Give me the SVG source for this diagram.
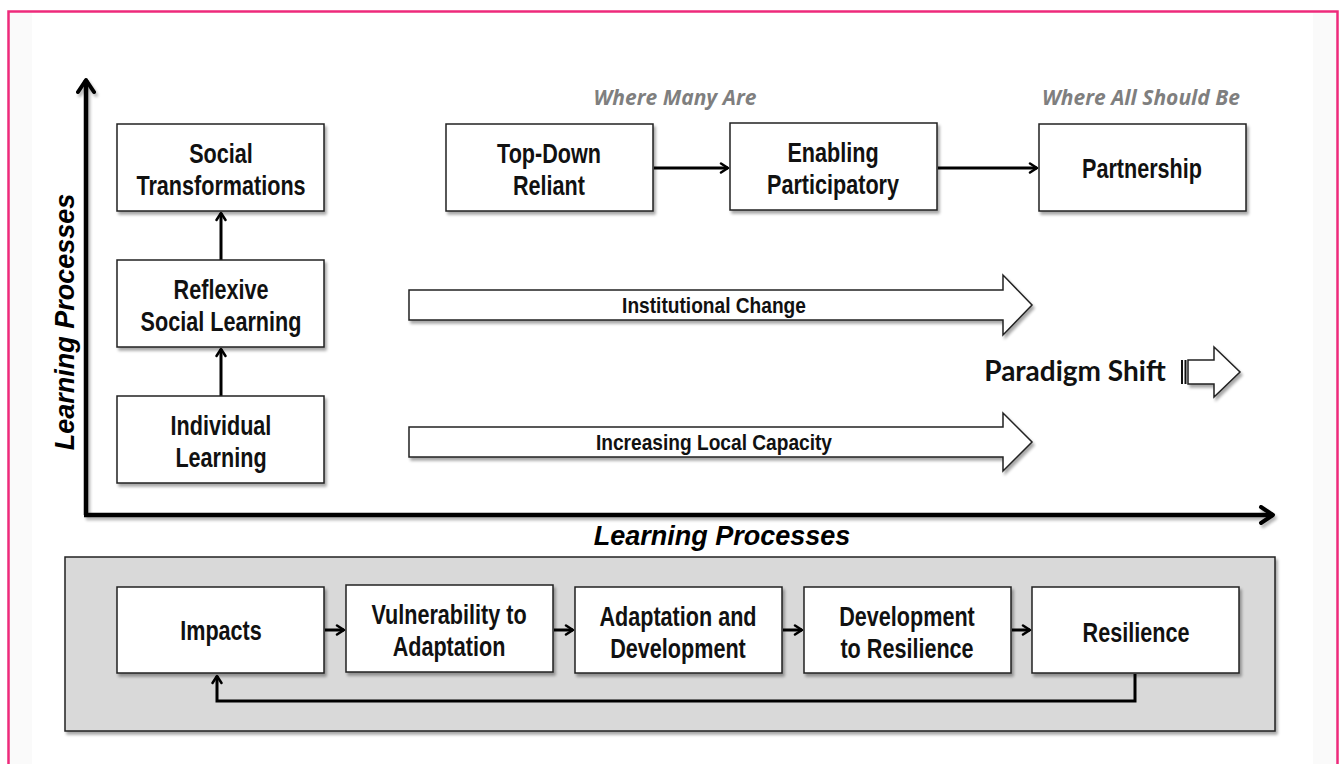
<svg xmlns="http://www.w3.org/2000/svg" width="1341" height="764" viewBox="0 0 1341 764">
<defs>
<filter id="sh" x="-10%" y="-10%" width="130%" height="130%">
<feGaussianBlur in="SourceAlpha" stdDeviation="1.5"/>
<feOffset dx="2" dy="3" result="o"/>
<feComponentTransfer><feFuncA type="linear" slope="0.35"/></feComponentTransfer>
<feMerge><feMergeNode/><feMergeNode in="SourceGraphic"/></feMerge>
</filter>
<filter id="sh2" filterUnits="userSpaceOnUse" x="0" y="0" width="1341" height="764">
<feGaussianBlur in="SourceAlpha" stdDeviation="1.5"/>
<feOffset dx="2" dy="3" result="o"/>
<feComponentTransfer><feFuncA type="linear" slope="0.3"/></feComponentTransfer>
<feMerge><feMergeNode/><feMergeNode in="SourceGraphic"/></feMerge>
</filter>
<marker id="axh" viewBox="0 0 20 20" refX="16" refY="10" markerWidth="20" markerHeight="20" orient="auto" markerUnits="userSpaceOnUse">
<path d="M4,2 L16,10 L4,18" fill="none" stroke="#000" stroke-width="4" stroke-linecap="round" stroke-linejoin="round"/>
</marker>
<marker id="sm" viewBox="0 0 12 12" refX="10" refY="6" markerWidth="12" markerHeight="12" orient="auto" markerUnits="userSpaceOnUse">
<path d="M3,1.5 L10,6 L3,10.5" fill="none" stroke="#000" stroke-width="2.5" stroke-linecap="round" stroke-linejoin="round"/>
</marker>
</defs>
<style>
.box{fill:#fff;stroke:#222;stroke-width:1.5;filter:url(#sh)}
.t{font-family:"Liberation Sans",Arial,sans-serif;font-weight:bold;font-size:27px;text-anchor:middle;fill:#111}
.lbl{font-family:"Liberation Sans",Arial,sans-serif;font-weight:bold;font-size:22px;text-anchor:middle;fill:#111}
.ax{font-family:"Liberation Sans",Arial,sans-serif;font-weight:bold;font-style:italic;font-size:27px;text-anchor:middle;fill:#000}
.gr{font-family:"Open Sans",sans-serif;font-weight:bold;font-style:italic;font-size:21px;text-anchor:middle;fill:#7f7f7f}
.con{stroke:#000;stroke-width:3;fill:none}
.blk{fill:#fff;stroke:#222;stroke-width:1.5;filter:url(#sh)}
</style>
<rect x="0" y="0" width="1341" height="764" fill="#fff"/>
<rect x="9" y="12" width="23" height="752" fill="#fafafa"/>
<rect x="1313" y="12" width="24" height="752" fill="#fafafa"/>
<rect x="8.5" y="11.5" width="1329" height="800" fill="none" stroke="#ee2a7b" stroke-width="2.5"/>

<g id="axes" filter="url(#sh2)">
<line x1="86" y1="515" x2="86" y2="80" stroke="#000" stroke-width="4.5" marker-end="url(#axh)"/>
<line x1="84" y1="515" x2="1273" y2="515" stroke="#000" stroke-width="4.5" marker-end="url(#axh)"/>
</g>
<text class="ax" transform="translate(74,322) rotate(-90)">Learning Processes</text>
<text class="ax" x="722" y="545">Learning Processes</text>

<g id="panel">
<rect x="65" y="557" width="1210" height="174" fill="#d9d9d9" stroke="#222" stroke-width="1.5" filter="url(#sh)"/>
</g>

<g id="connectors">
<line x1="221" y1="260" x2="221" y2="213" class="con" marker-end="url(#sm)"/>
<line x1="221" y1="396" x2="221" y2="349" class="con" marker-end="url(#sm)"/>
<line x1="654" y1="168" x2="728" y2="168" class="con" marker-end="url(#sm)"/>
<line x1="938" y1="168" x2="1037" y2="168" class="con" marker-end="url(#sm)"/>
<line x1="325" y1="630" x2="344" y2="630" class="con" marker-end="url(#sm)"/>
<line x1="554" y1="630" x2="573" y2="630" class="con" marker-end="url(#sm)"/>
<line x1="783" y1="630" x2="802" y2="630" class="con" marker-end="url(#sm)"/>
<line x1="1012" y1="630" x2="1030" y2="630" class="con" marker-end="url(#sm)"/>
<polyline points="1135,674 1135,701 217,701 217,676" class="con" marker-end="url(#sm)"/>
</g>

<g id="n-social"><rect class="box" x="117" y="124" width="207" height="87"/><text class="t" transform="translate(221,163) scale(0.8,1)">Social</text><text class="t" transform="translate(221,195) scale(0.8,1)">Transformations</text></g>
<g id="n-reflexive"><rect class="box" x="117" y="260" width="207" height="87"/><text class="t" transform="translate(221,299) scale(0.8,1)">Reflexive</text><text class="t" transform="translate(221,331) scale(0.8,1)">Social Learning</text></g>
<g id="n-individual"><rect class="box" x="117" y="396" width="207" height="87"/><text class="t" transform="translate(221,435) scale(0.8,1)">Individual</text><text class="t" transform="translate(221,467) scale(0.8,1)">Learning</text></g>

<g id="n-topdown"><rect class="box" x="446" y="124" width="207" height="87"/><text class="t" transform="translate(549,163) scale(0.8,1)">Top-Down</text><text class="t" transform="translate(549,195) scale(0.8,1)">Reliant</text></g>
<g id="n-enabling"><rect class="box" x="730" y="123" width="207" height="87"/><text class="t" transform="translate(833,162) scale(0.8,1)">Enabling</text><text class="t" transform="translate(833,194) scale(0.8,1)">Participatory</text></g>
<g id="n-partnership"><rect class="box" x="1039" y="124" width="207" height="87"/><text class="t" transform="translate(1142,178) scale(0.8,1)">Partnership</text></g>
<text class="gr" x="675" y="105">Where Many Are</text>
<text class="gr" x="1141" y="105">Where All Should Be</text>

<g id="n-institutional">
<path class="blk" d="M409,290 H1003 V275 L1032,305 L1003,335 V320 H409 Z"/>
<text class="lbl" transform="translate(714,313) scale(0.87,1)">Institutional Change</text>
</g>
<g id="n-capacity">
<path class="blk" d="M409,427 H1003 V413 L1032,442 L1003,471 V457 H409 Z"/>
<text class="lbl" transform="translate(714,450) scale(0.87,1)">Increasing Local Capacity</text>
</g>
<g id="n-paradigm">
<text x="1075" y="381" font-family="Lato,'Open Sans',sans-serif" font-weight="bold" font-size="28" text-anchor="middle" fill="#111">Paradigm Shift</text>
<path class="blk" d="M1188,360 H1214 V347 L1240,372 L1214,397 V384 H1188 Z"/>
<rect x="1181" y="360" width="2" height="24" fill="#111"/>
<rect x="1184.5" y="360" width="2" height="24" fill="#111"/>
</g>

<g id="n-impacts"><rect class="box" x="117" y="587" width="207" height="86"/><text class="t" transform="translate(221,640) scale(0.8,1)">Impacts</text></g>
<g id="n-vulnerability"><rect class="box" x="346" y="585" width="207" height="87"/><text class="t" transform="translate(449,624) scale(0.8,1)">Vulnerability to</text><text class="t" transform="translate(449,656) scale(0.8,1)">Adaptation</text></g>
<g id="n-adaptation"><rect class="box" x="575" y="587" width="207" height="86"/><text class="t" transform="translate(678,626) scale(0.8,1)">Adaptation and</text><text class="t" transform="translate(678,658) scale(0.8,1)">Development</text></g>
<g id="n-development"><rect class="box" x="804" y="587" width="207" height="86"/><text class="t" transform="translate(907,626) scale(0.8,1)">Development</text><text class="t" transform="translate(907,658) scale(0.8,1)">to Resilience</text></g>
<g id="n-resilience"><rect class="box" x="1032" y="587" width="207" height="86"/><text class="t" transform="translate(1136,642) scale(0.8,1)">Resilience</text></g>
</svg>
